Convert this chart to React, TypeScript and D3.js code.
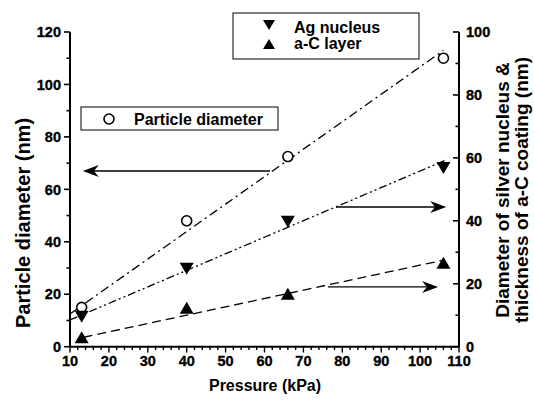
import React from "react";
import * as d3 from "d3";

const pressure = [13, 40, 66, 106];
const particleDiameter = [15, 48, 72.5, 110];
const agNucleus = [9.5, 24.8, 39.7, 56.8];
const acLayer = [3, 12.4, 16.8, 26.7];

// fitted trend lines (start / end points in data units)
const particleFit: [number, number][] = [[10, 12.5], [106, 113]];
const agFit: [number, number][] = [[10, 8.5], [107, 59.5]];
const acFit: [number, number][] = [[13.5, 3], [106, 27.5]];

// annotation arrows: from x0 to x1 at y (data units of given axis)
const arrows = [
  { axis: "left", x0: 61.4, x1: 13.3, y: 67 },
  { axis: "right", x0: 78.4, x1: 106.7, y: 44.4 },
  { axis: "right", x0: 76.3, x1: 104.6, y: 19 },
];

const xMajor = d3.range(10, 111, 10);
const xMinor = d3.range(10, 111, 2);
const leftMajor = d3.range(0, 121, 20);
const leftMinor = d3.range(0, 121, 10);
const rightMajor = d3.range(0, 101, 20);
const rightMinor = d3.range(0, 101, 10);

const FONT = "'Liberation Sans', Arial, sans-serif";

export default function App() {
  const W = 534, H = 400;
  const x = d3.scaleLinear().domain([10, 110]).range([70, 459]);
  const yL = d3.scaleLinear().domain([0, 120]).range([346.7, 32]);
  const yR = d3.scaleLinear().domain([0, 100]).range([346.7, 32]);

  const lineL = d3.line<[number, number]>().x(d => x(d[0])).y(d => yL(d[1]));
  const lineR = d3.line<[number, number]>().x(d => x(d[0])).y(d => yR(d[1]));

  const down = (cx: number, cy: number, w: number, h: number) =>
    `M${cx - w / 2},${cy - h / 2}L${cx + w / 2},${cy - h / 2}L${cx},${cy + h / 2}Z`;
  const up = (cx: number, cy: number, w: number, h: number) =>
    `M${cx - w / 2},${cy + h / 2}L${cx + w / 2},${cy + h / 2}L${cx},${cy - h / 2}Z`;

  const head = (tx: number, ty: number, dir: number) => {
    const L = 16, hw = 6;
    return `M${tx},${ty}L${tx - dir * L},${ty - hw}L${tx - dir * 11},${ty}L${tx - dir * L},${ty + hw}Z`;
  };

  const B = { fontFamily: FONT, fontWeight: 700 } as React.CSSProperties;
  const TB = { fontFamily: FONT, fontWeight: 700, stroke: "#000", strokeWidth: 0.35 } as React.CSSProperties;

  return (
    <svg width={W} height={H} style={{ position: "absolute", left: 0, top: 0, background: "#fff" }}>
      <rect width={W} height={H} fill="#fff" />

      {/* fit lines */}
      <path d={lineL(particleFit) || ""} fill="none" stroke="#000" strokeWidth={1.3} strokeDasharray="9,4,2,4" />
      <path d={lineR(agFit) || ""} fill="none" stroke="#000" strokeWidth={1.3} strokeDasharray="8,3,2,3,2,3" />
      <path d={lineR(acFit) || ""} fill="none" stroke="#000" strokeWidth={1.3} strokeDasharray="9,5" />

      {/* arrows */}
      {arrows.map((a, i) => {
        const sc = a.axis === "left" ? yL : yR;
        const y = sc(a.y);
        const x0 = x(a.x0), x1 = x(a.x1);
        const dir = x1 > x0 ? 1 : -1;
        return (
          <g key={i}>
            <line x1={x0} y1={y} x2={x1 - dir * 8} y2={y} stroke="#000" strokeWidth={1.4} />
            <path d={head(x1, y, dir)} fill="#000" />
          </g>
        );
      })}

      {/* markers */}
      {pressure.map((p, i) => (
        <circle key={"c" + i} cx={x(p)} cy={yL(particleDiameter[i])} r={5} fill="#fff" stroke="#000" strokeWidth={1.6} />
      ))}
      {pressure.map((p, i) => (
        <path key={"d" + i} d={down(x(p), yR(agNucleus[i]), 14, 12)} fill="#000" />
      ))}
      {pressure.map((p, i) => (
        <path key={"u" + i} d={up(x(p), yR(acLayer[i]), 14, 12)} fill="#000" />
      ))}

      {/* axes lines */}
      <line x1={70} y1={yL(120)} x2={70} y2={346.7} stroke="#000" strokeWidth={2} />
      <line x1={459} y1={yR(100)} x2={459} y2={346.7} stroke="#000" strokeWidth={2} />
      <line x1={69} y1={346.7} x2={460} y2={346.7} stroke="#000" strokeWidth={2} />

      {/* left axis ticks */}
      {leftMinor.map(v => (
        <line key={"lm" + v} x1={70} x2={v % 20 === 0 ? 64 : 66.5} y1={yL(v)} y2={yL(v)} stroke="#000" strokeWidth={1.6} />
      ))}
      {leftMajor.map(v => (
        <text key={"lt" + v} x={61} y={yL(v)} dy="0.36em" textAnchor="end" fontSize={14.5} style={TB}>{v}</text>
      ))}

      {/* right axis ticks */}
      {rightMinor.map(v => (
        <line key={"rm" + v} x1={459} x2={v % 20 === 0 ? 453 : 455.5} y1={yR(v)} y2={yR(v)} stroke="#000" strokeWidth={1.6} />
      ))}
      {rightMajor.map(v => (
        <text key={"rt" + v} x={466} y={yR(v)} dy="0.36em" textAnchor="start" fontSize={14.5} style={TB}>{v}</text>
      ))}

      {/* bottom axis ticks */}
      {xMinor.map(v => (
        <line key={"xm" + v} x1={x(v)} x2={x(v)} y1={346.7} y2={v % 10 === 0 ? 352.5 : 350} stroke="#000" strokeWidth={1.4} />
      ))}
      {xMajor.map(v => (
        <text key={"xt" + v} x={x(v)} y={365.5} textAnchor="middle" fontSize={14.5} style={TB}>{v}</text>
      ))}

      {/* axis titles */}
      <text x={265} y={391} textAnchor="middle" fontSize={16} style={B}>Pressure (kPa)</text>
      <text transform="translate(30,223) rotate(-90)" textAnchor="middle" fontSize={20} style={B}>Particle diameter (nm)</text>
      <text transform="translate(509,190) rotate(-90)" textAnchor="middle" fontSize={19} style={B}>Diameter of silver nucleus &amp;</text>
      <text transform="translate(528,190) rotate(-90)" textAnchor="middle" fontSize={19} style={B}>thickness of a-C coating (nm)</text>

      {/* legend 1 */}
      <rect x={81} y={107} width={197} height={23} fill="#fff" stroke="#000" strokeWidth={1} />
      <circle cx={109} cy={119} r={5} fill="#fff" stroke="#000" strokeWidth={1.6} />
      <text x={134} y={125} fontSize={16} style={B}>Particle diameter</text>

      {/* legend 2 */}
      <rect x={233} y={13} width={186} height={46} fill="#fff" stroke="#000" strokeWidth={1} />
      <path d={down(269, 25, 12, 10)} fill="#000" />
      <path d={up(269, 44, 12, 10)} fill="#000" />
      <text x={294} y={33} fontSize={16} style={B}>Ag nucleus</text>
      <text x={294} y={49} fontSize={16} style={B}>a-C layer</text>
    </svg>
  );
}
